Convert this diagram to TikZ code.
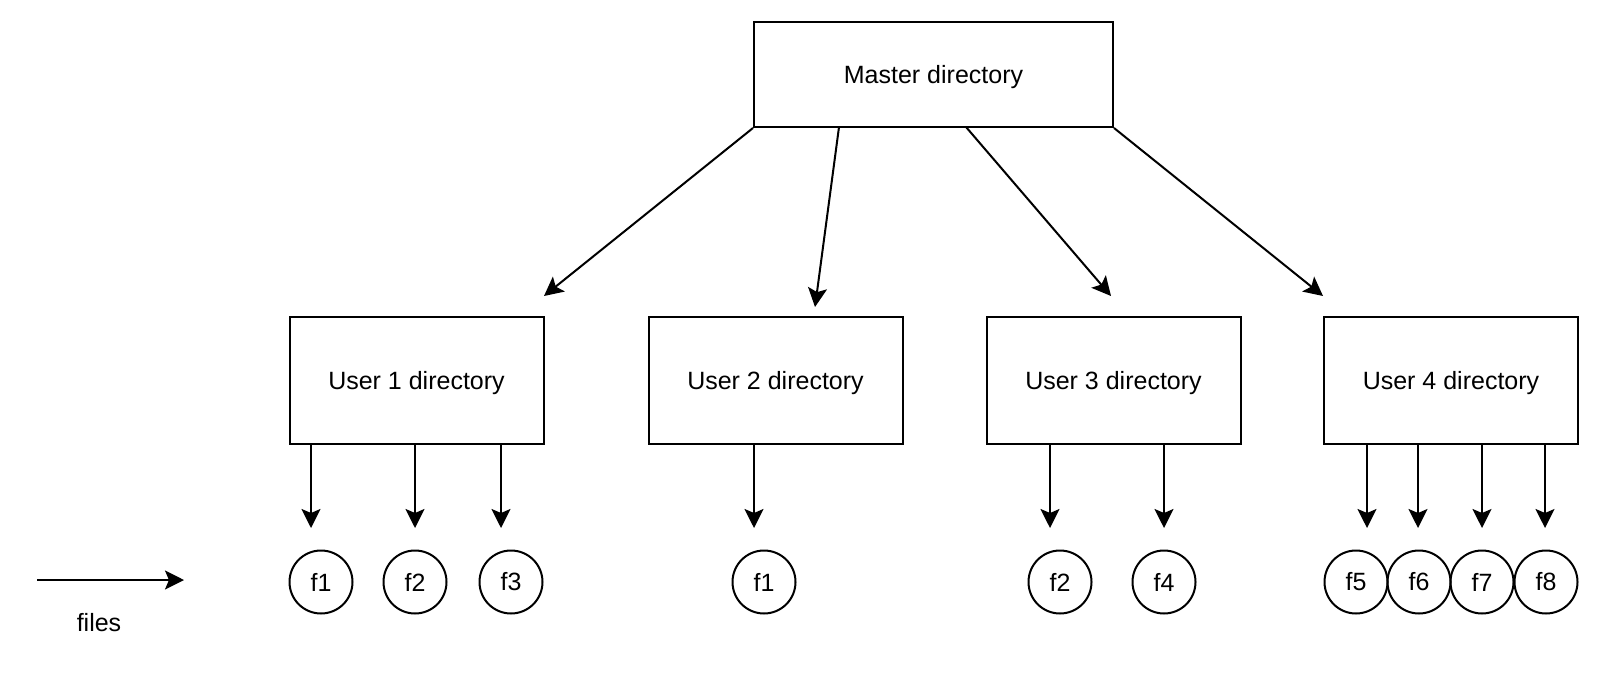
\documentclass[tikz,border=0pt]{standalone}
\usepackage{fontspec}
\setmainfont{Liberation Sans}
\usetikzlibrary{arrows.meta}
\begin{document}
\begin{tikzpicture}[x=0.5pt,y=-0.5pt,
  box/.style={draw,line width=1pt,rectangle,inner sep=0pt,font=\fontsize{12.5}{15}\selectfont},
  mbox/.style={box,minimum width=179.5pt,minimum height=52.5pt,text depth=0.5pt},
  ubox/.style={box,minimum width=127pt,minimum height=63.5pt,text depth=0.5pt},
  file/.style={draw,line width=1pt,circle,inner sep=0pt,minimum size=31.5pt,font=\fontsize{12.5}{15}\selectfont},
  arr/.style={line width=1pt,-{Stealth[length=9.5pt,width=9.5pt,inset=2pt]}},
  lbl/.style={font=\fontsize{12.5}{15}\selectfont}]
\useasboundingbox (0,0) rectangle (1600,680);
% boxes
\node[mbox] (m) at (933.5,74.5) {Master directory};
\node[ubox] (u1) at (416.5,380.5) {User 1 directory};
\node[ubox] (u2) at (775.5,380.5) {User 2 directory};
\node[ubox] (u3) at (1113.5,380.5) {User 3 directory};
\node[ubox] (u4) at (1451,380.5) {User 4 directory};
% master arrows
\coordinate (ms2) at (839,127);
\coordinate (ms3) at (966,127);
\coordinate (a1) at (544,296);
\coordinate (a2) at (815,307);
\coordinate (a3) at (1111,296);
\coordinate (a4) at (1323,296);
\draw[arr] (m.south west) -- (a1);
\draw[arr] (ms2) -- (a2);
\draw[arr] (ms3) -- (a3);
\draw[arr] (m.south east) -- (a4);
% files
\node[file] (f11) at (321,582) {f1};
\node[file] (f12) at (415,582) {f2};
\node[file] (f13) at (511,582) {f3};
\node[file] (f21) at (764,582) {f1};
\node[file] (f32) at (1060,582) {f2};
\node[file] (f34) at (1164,582) {f4};
\node[file] (f5) at (1356,582) {f5};
\node[file] (f6) at (1419,582) {f6};
\node[file] (f7) at (1482,582) {f7};
\node[file] (f8) at (1546,582) {f8};
% file arrows
\foreach \n/\x/\b in {t11/311/u1,t12/415/u1,t13/501/u1,t21/754/u2,t31/1050/u3,t32/1164/u3,t41/1367/u4,t42/1418/u4,t43/1482/u4,t44/1545/u4}{
  \coordinate (\n) at (\x,528);
  \draw[arr] (\b.south -| \n) -- (\n);
}
% legend
\coordinate (l1) at (37,580);
\coordinate (l2) at (184,580);
\draw[arr] (l1) -- (l2);
\node[lbl] (files) at (99,623) {files};
\end{tikzpicture}
\end{document}
